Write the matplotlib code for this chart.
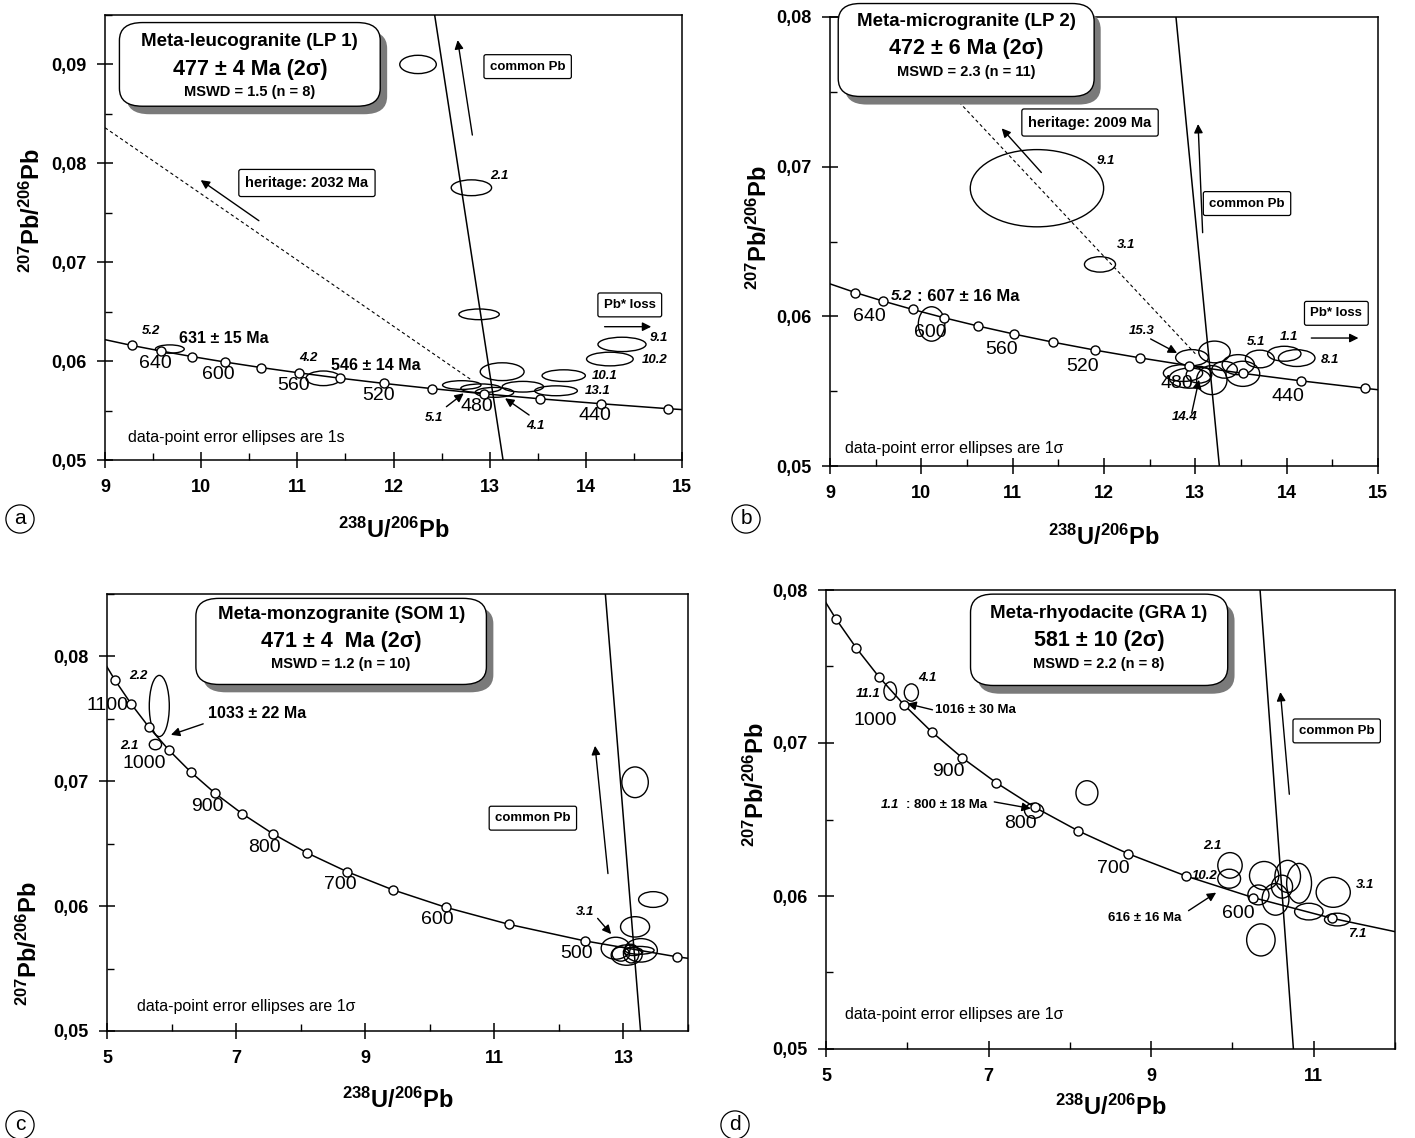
import matplotlib
matplotlib.use('Agg')
import matplotlib.pyplot as plt
from matplotlib.patches import Ellipse, FancyBboxPatch
from matplotlib.ticker import MultipleLocator, FixedLocator, FuncFormatter

plt.rcParams['font.family'] = ['Liberation Sans', 'DejaVu Sans']
plt.rcParams['mathtext.fontset'] = 'custom'
plt.rcParams['mathtext.rm'] = 'Liberation Sans'
plt.rcParams['mathtext.bf'] = 'Liberation Sans:bold'
plt.rcParams['mathtext.it'] = 'Liberation Sans:italic'
plt.rcParams['mathtext.default'] = 'bf'

# ---- concordia nodes ----
# panels a, b : 700 .. 400 Ma (markers 660..420 every 20 Ma)
ab_ages = [700, 660, 640, 620, 600, 580, 560, 540, 520, 500, 480, 460, 440, 420, 400]
ab_cx = [8.718, 9.276, 9.581, 9.905, 10.252, 10.622, 11.019, 11.445, 11.904, 12.399,
         12.936, 13.520, 14.157, 14.854, 15.621]
ab_cy = [0.06276, 0.06159, 0.06102, 0.06046, 0.05990, 0.05935, 0.05881, 0.05827, 0.05774,
         0.05722, 0.05670, 0.05619, 0.05569, 0.05519, 0.05470]
# panels c, d : 1200 .. 400 Ma (markers every 50 Ma)
cd_ages = [1200, 1150, 1100, 1050, 1000, 950, 900, 850, 800, 750, 700, 650, 600, 550, 500, 450, 400]
cd_cx = [4.888, 5.121, 5.375, 5.653, 5.959, 6.298, 6.674, 7.095, 7.568, 8.105, 8.718, 9.426,
         10.252, 11.228, 12.399, 13.831, 15.621]
cd_cy = [0.08012, 0.07812, 0.07619, 0.07431, 0.07250, 0.07074, 0.06904, 0.06740, 0.06580,
         0.06425, 0.06276, 0.06131, 0.05990, 0.05854, 0.05722, 0.05594, 0.05470]

# tick positions
ab_xticks = [9, 10, 11, 12, 13, 14, 15]
c_xticks = [5, 7, 9, 11, 13]
d_xticks = [5, 7, 9, 11]

# ---- error ellipses (x, y, width, height) ----
a_ell = [(12.255, 0.0900, 0.38, 0.00185), (12.81, 0.07753, 0.42, 0.0016),
         (12.89, 0.06473, 0.42, 0.00108), (13.13, 0.05893, 0.456, 0.0018),
         (14.376, 0.06169, 0.50, 0.00145), (14.25, 0.06021, 0.485, 0.00138),
         (13.77, 0.05853, 0.45, 0.00118), (13.69, 0.0570, 0.444, 0.001),
         (13.345, 0.05741, 0.43, 0.00108), (13.05, 0.05684, 0.40, 0.001),
         (12.91, 0.05725, 0.42, 0.00088), (12.71, 0.05758, 0.40, 0.00088),
         (11.27, 0.05826, 0.36, 0.00148), (9.674, 0.06122, 0.30, 0.00084)]
b_ell = [(11.266, 0.06856, 1.46, 0.00516), (11.956, 0.06347, 0.34, 0.00103),
         (10.112, 0.05949, 0.29, 0.0023), (12.963, 0.05724, 0.357, 0.00107),
         (13.21, 0.05762, 0.345, 0.00145), (13.706, 0.05715, 0.317, 0.00118),
         (13.974, 0.0575, 0.365, 0.001), (14.11, 0.05721, 0.40, 0.00112),
         (13.47, 0.05677, 0.353, 0.00134), (13.52, 0.05616, 0.37, 0.00168),
         (12.865, 0.05621, 0.43, 0.00112), (12.94, 0.05587, 0.45, 0.00134),
         (13.18, 0.05574, 0.333, 0.00194), (13.04, 0.0561, 0.28, 0.00112),
         (13.32, 0.05643, 0.28, 0.00112)]
c_ell = [(5.81, 0.07603, 0.31, 0.0049), (5.75, 0.07294, 0.19, 0.00083),
         (13.18, 0.06992, 0.41, 0.00246), (13.46, 0.06053, 0.45, 0.00126),
         (13.18, 0.05834, 0.45, 0.00163), (12.88, 0.05663, 0.45, 0.00176),
         (13.05, 0.05608, 0.48, 0.00163), (13.27, 0.05646, 0.51, 0.00188),
         (12.96, 0.05616, 0.27, 0.00113), (13.15, 0.05636, 0.30, 0.00063),
         (13.25, 0.05646, 0.45, 0.00063), (13.12, 0.05620, 0.24, 0.0015)]
d_ell = [(5.79, 0.07339, 0.155, 0.0012), (6.05, 0.0733, 0.174, 0.00113),
         (7.56, 0.06557, 0.235, 0.00098), (8.21, 0.06674, 0.27, 0.00159),
         (9.97, 0.0620, 0.30, 0.00167), (9.96, 0.06113, 0.28, 0.00124),
         (10.35, 0.05713, 0.35, 0.0021), (11.24, 0.06024, 0.42, 0.00196),
         (11.29, 0.05846, 0.315, 0.00083), (10.94, 0.05898, 0.35, 0.00109),
         (10.39, 0.06133, 0.36, 0.00185), (10.32, 0.06007, 0.26, 0.0013),
         (10.53, 0.05978, 0.33, 0.00207), (10.68, 0.06128, 0.315, 0.0021),
         (10.82, 0.06083, 0.306, 0.0026), (10.61, 0.06061, 0.26, 0.0015)]

# ---- discordia / reference lines ----
a_disc = ([12.428, 13.139], [0.095, 0.05])
b_disc = ([12.788, 13.263], [0.08, 0.05])
c_disc = ([12.72, 13.265], [0.085, 0.05])
d_disc = ([10.34, 10.75], [0.08, 0.05])
a_dash = ([9.0, 12.81], [0.0836, 0.0581])
b_dash = ([10.0, 13.0], [0.0770, 0.0575])

# ---- age labels on concordia ----
a_age_lab = [('640', 9.52, 0.0598), ('600', 10.18, 0.05866), ('560', 10.96, 0.05758),
             ('520', 11.84, 0.0565), ('480', 12.87, 0.05546), ('440', 14.09, 0.05445)]
b_age_lab = [('640', 9.43, 0.05996), ('600', 10.10, 0.05889), ('560', 10.88, 0.05777),
             ('520', 11.76, 0.05666), ('480', 12.80, 0.05554), ('440', 14.01, 0.05465)]
c_age_lab = [('1100', 5.01, 0.0761), ('1000', 5.58, 0.07146), ('900', 6.55, 0.0680),
             ('800', 7.44, 0.06467), ('700', 8.61, 0.06171), ('600', 10.12, 0.05894),
             ('500', 12.27, 0.05618)]
d_age_lab = [('1000', 5.61, 0.07148), ('900', 6.50, 0.06811), ('800', 7.39, 0.06474),
             ('700', 8.53, 0.0618), ('600', 10.07, 0.05887)]

# ---- spot labels (italic) ----
a_spots = [('2.1', 13.1, 0.0787), ('5.2', 9.48, 0.0630), ('4.2', 11.12, 0.06028),
           ('9.1', 14.76, 0.0623), ('10.2', 14.72, 0.0601), ('10.1', 14.2, 0.0585),
           ('13.1', 14.12, 0.0570), ('5.1', 12.42, 0.0542), ('4.1', 13.48, 0.0534)]
b_spots = [('9.1', 12.02, 0.0704), ('3.1', 12.24, 0.06474), ('15.3', 12.41, 0.05905),
           ('5.1', 13.67, 0.05826), ('1.1', 14.03, 0.0586), ('8.1', 14.47, 0.0571),
           ('14.4', 12.88, 0.0533)]
c_spots = [('2.2', 5.49, 0.07844), ('2.1', 5.34, 0.07284), ('3.1', 12.40, 0.05952)]
d_spots = [('11.1', 5.52, 0.07322), ('4.1', 6.25, 0.07424), ('2.1', 9.75, 0.06326),
           ('10.2', 9.66, 0.0613), ('3.1', 11.63, 0.06072), ('7.1', 11.54, 0.0575)]

# ---- arrows (tail -> head) ----
a_arrows = [((12.82, 0.08286), (12.667, 0.09246)), ((10.6, 0.0742), (9.995, 0.0783)),
            ((14.195, 0.06348), (14.68, 0.06348)), ((12.55, 0.05539), (12.73, 0.05674)),
            ((13.41, 0.05455), (13.16, 0.05624))]
b_arrows = [((11.314, 0.06961), (10.88, 0.07256)), ((13.08, 0.06559), (13.03, 0.07285)),
            ((14.27, 0.05855), (14.786, 0.05855)), ((12.51, 0.05849), (12.80, 0.05755)),
            ((12.96, 0.05353), (13.04, 0.05576))]
c_arrows = [((6.49, 0.0746), (5.99, 0.07372)), ((12.76, 0.06261), (12.56, 0.07284)),
            ((12.60, 0.05902), (12.81, 0.05776))]
d_arrows = [((6.31, 0.07217), (6.0, 0.07257)), ((7.07, 0.06615), (7.52, 0.06572)),
            ((9.46, 0.05904), (9.80, 0.06022)), ((10.70, 0.06665), (10.59, 0.07333))]

fig = plt.figure(figsize=(14.15, 11.38), dpi=100)
W, H = 1415, 1138


def make_ax(l, r, t, b):
    return fig.add_axes([l / W, 1 - b / H, (r - l) / W, (b - t) / H])


def style_ax(ax, xlim, ylim, xticks, xmin):
    ax.set_xlim(*xlim)
    ax.set_ylim(*ylim)
    ax.xaxis.set_major_locator(FixedLocator(xticks))
    ax.xaxis.set_minor_locator(MultipleLocator(xmin))
    ax.yaxis.set_major_locator(MultipleLocator(0.01))
    ax.yaxis.set_minor_locator(MultipleLocator(0.005))
    ax.yaxis.set_major_formatter(FuncFormatter(lambda v, p: f'{v:.2f}'.replace('.', ',')))
    ax.xaxis.set_major_formatter(FuncFormatter(lambda v, p: f'{v:.0f}'))
    ax.tick_params(which='major', direction='inout', length=11, width=1.1,
                   labelsize=13, pad=8)
    ax.tick_params(which='minor', direction='in', length=5, width=1.0)
    for lab in ax.get_xticklabels() + ax.get_yticklabels():
        lab.set_fontweight('bold')
    for s in ax.spines.values():
        s.set_linewidth(1.1)
    ax.set_xlabel(r'$^{238}$U/$^{206}$Pb', fontsize=17, fontweight='bold')
    ax.set_ylabel(r'$^{207}$Pb/$^{206}$Pb', fontsize=17, fontweight='bold')


def draw_concordia(ax, cx, cy, idx):
    ax.plot(cx, cy, color='black', lw=1.1, zorder=3)
    ax.plot([cx[i] for i in idx], [cy[i] for i in idx], 'o', ms=6.5, mfc='white',
            mec='black', mew=1.0, zorder=4)


def draw_ellipses(ax, ells):
    for x, y, w, h in ells:
        ax.add_patch(Ellipse((x, y), w, h, fc='none', ec='black', lw=1.0, zorder=3))


def draw_arrows(ax, arrows):
    for tail, head in arrows:
        ax.annotate('', xy=head, xytext=tail,
                    arrowprops=dict(arrowstyle='-|>', color='black', lw=1.0,
                                    mutation_scale=13, shrinkA=0, shrinkB=0))


def title_box(ax, x0, y0, x1, y1, lines):
    sh = FancyBboxPatch((x0 + 0.012, y0 - 0.018), x1 - x0, y1 - y0,
                        boxstyle='round,pad=0,rounding_size=0.04', transform=ax.transAxes,
                        fc='#7a7a7a', ec='none', clip_on=False, zorder=8)
    bx = FancyBboxPatch((x0, y0), x1 - x0, y1 - y0,
                        boxstyle='round,pad=0,rounding_size=0.04', transform=ax.transAxes,
                        fc='white', ec='black', lw=1.0, clip_on=False, zorder=9)
    ax.add_patch(sh)
    ax.add_patch(bx)
    for txt, yy, fs in lines:
        ax.text((x0 + x1) / 2, yy, txt, transform=ax.transAxes, ha='center', va='center',
                fontsize=fs, fontweight='bold', zorder=10)


def label_box(ax, x, y, txt, fs=9.5):
    ax.text(x, y, txt, transform=ax.transAxes, ha='center', va='center', fontsize=fs,
            fontweight='bold', zorder=10,
            bbox=dict(boxstyle='round,pad=0.45,rounding_size=0.15', fc='white', ec='black',
                      lw=0.9))


def put_labels(ax, ages, spots):
    for t, x, y in ages:
        ax.text(x, y, t, ha='center', va='center', fontsize=14, zorder=5, clip_on=False)
    for t, x, y in spots:
        ax.text(x, y, t, ha='center', va='center', fontsize=9.5, fontweight='bold',
                style='italic', zorder=5)


# ================= panel a =================
ax = make_ax(105, 682, 15, 460)
style_ax(ax, (9, 15), (0.05, 0.095), ab_xticks, 0.5)
ax.plot(*a_disc, color='black', lw=1.1, zorder=2)
ax.plot(*a_dash, color='black', lw=0.8, ls=(0, (3, 2.5)), zorder=2)
draw_concordia(ax, ab_cx, ab_cy, range(1, 14))
draw_ellipses(ax, a_ell)
draw_arrows(ax, a_arrows)
put_labels(ax, a_age_lab, a_spots)
ax.text(10.24, 0.0623, '631 ± 15 Ma', ha='center', va='center', fontsize=11.5, fontweight='bold')
ax.text(11.82, 0.05954, '546 ± 14 Ma', ha='center', va='center', fontsize=11.5, fontweight='bold')
title_box(ax, 0.025, 0.795, 0.477, 0.983,
          [('Meta-leucogranite (LP 1)', 0.940, 13.5), ('477 ± 4 Ma (2σ)', 0.878, 15.5),
           ('MSWD = 1.5 (n = 8)', 0.828, 10.5)])
label_box(ax, 0.7325, 0.884, 'common Pb')
label_box(ax, 0.35, 0.6225, 'heritage: 2032 Ma', fs=10.5)
label_box(ax, 0.9095, 0.3485, 'Pb* loss')
ax.text(0.039, 0.05, 'data-point error ellipses are 1s', transform=ax.transAxes,
        va='center', fontsize=11.5)
ax.yaxis.set_label_coords(-0.104, 0.56)
ax.xaxis.set_label_coords(0.5, -0.13)

# ================= panel b =================
ax = make_ax(830, 1378, 17, 466)
style_ax(ax, (9, 15), (0.05, 0.08), ab_xticks, 0.5)
ax.plot(*b_disc, color='black', lw=1.1, zorder=2)
ax.plot(*b_dash, color='black', lw=0.8, ls=(0, (3, 2.5)), zorder=2)
draw_concordia(ax, ab_cx, ab_cy, range(1, 14))
draw_ellipses(ax, b_ell)
draw_arrows(ax, b_arrows)
put_labels(ax, b_age_lab, b_spots)
ax.text(9.67, 0.06135, '5.2', ha='left', va='center', fontsize=11, fontweight='bold', style='italic')
ax.text(9.95, 0.06135, ': 607 ± 16 Ma', ha='left', va='center', fontsize=12, fontweight='bold')
title_box(ax, 0.015, 0.823, 0.482, 1.030,
          [('Meta-microgranite (LP 2)', 0.989, 13.5), ('472 ± 6 Ma (2σ)', 0.929, 15.5),
           ('MSWD = 2.3 (n = 11)', 0.877, 10.5)])
label_box(ax, 0.4745, 0.765, 'heritage: 2009 Ma', fs=10.5)
label_box(ax, 0.761, 0.5845, 'common Pb')
label_box(ax, 0.924, 0.34, 'Pb* loss')
ax.text(0.027, 0.04, 'data-point error ellipses are 1σ', transform=ax.transAxes,
        va='center', fontsize=11.5)
ax.yaxis.set_label_coords(-0.106, 0.53)
ax.xaxis.set_label_coords(0.5, -0.13)

# ================= panel c =================
ax = make_ax(107, 688, 594, 1031)
style_ax(ax, (5, 14), (0.05, 0.085), c_xticks, 1)
ax.plot(*c_disc, color='black', lw=1.1, zorder=2)
draw_concordia(ax, cd_cx, cd_cy, range(1, 16))
draw_ellipses(ax, c_ell)
draw_arrows(ax, c_arrows)
put_labels(ax, c_age_lab, c_spots)
ax.text(6.57, 0.07543, '1033 ± 22 Ma', ha='left', va='center', fontsize=11.5, fontweight='bold')
title_box(ax, 0.153, 0.793, 0.653, 0.99,
          [('Meta-monzogranite (SOM 1)', 0.954, 13.5), ('471 ± 4  Ma (2σ)', 0.892, 15.5),
           ('MSWD = 1.2 (n = 10)', 0.839, 10.5)])
label_box(ax, 0.733, 0.487, 'common Pb')
ax.text(0.051, 0.056, 'data-point error ellipses are 1σ', transform=ax.transAxes,
        va='center', fontsize=11.5)
ax.yaxis.set_label_coords(-0.112, 0.2)
ax.xaxis.set_label_coords(0.5, -0.13)

# ================= panel d =================
ax = make_ax(826, 1395, 590, 1049)
style_ax(ax, (5, 12), (0.05, 0.08), d_xticks, 1)
ax.plot(*d_disc, color='black', lw=1.1, zorder=2)
draw_concordia(ax, cd_cx, cd_cy, range(1, 14))
draw_ellipses(ax, d_ell)
draw_arrows(ax, d_arrows)
put_labels(ax, d_age_lab, d_spots)
ax.text(6.34, 0.07213, '1016 ± 30 Ma', ha='left', va='center', fontsize=9.5, fontweight='bold')
ax.text(5.68, 0.06593, '1.1', ha='left', va='center', fontsize=9.5, fontweight='bold', style='italic')
ax.text(5.98, 0.06593, ': 800 ± 18 Ma', ha='left', va='center', fontsize=9.5, fontweight='bold')
ax.text(8.92, 0.05854, '616 ± 16 Ma', ha='center', va='center', fontsize=9.5, fontweight='bold')
title_box(ax, 0.254, 0.792, 0.706, 0.991,
          [('Meta-rhyodacite (GRA 1)', 0.948, 13.5), ('581 ± 10 (2σ)', 0.89, 15.5),
           ('MSWD = 2.2 (n = 8)', 0.839, 10.5)])
label_box(ax, 0.8975, 0.693, 'common Pb')
ax.text(0.034, 0.075, 'data-point error ellipses are 1σ', transform=ax.transAxes,
        va='center', fontsize=11.5)
ax.yaxis.set_label_coords(-0.10, 0.575)
ax.xaxis.set_label_coords(0.5, -0.10)

# panel letters
for letter, x, y in [('a', 20, 519), ('b', 746, 519), ('c', 20, 1125), ('d', 735, 1125)]:
    fig.text(x / W, 1 - y / H, letter, ha='center', va='center', fontsize=15,
             bbox=dict(boxstyle='circle,pad=0.22', fc='white', ec='black', lw=0.9))

fig.savefig('out.png', dpi=100)
